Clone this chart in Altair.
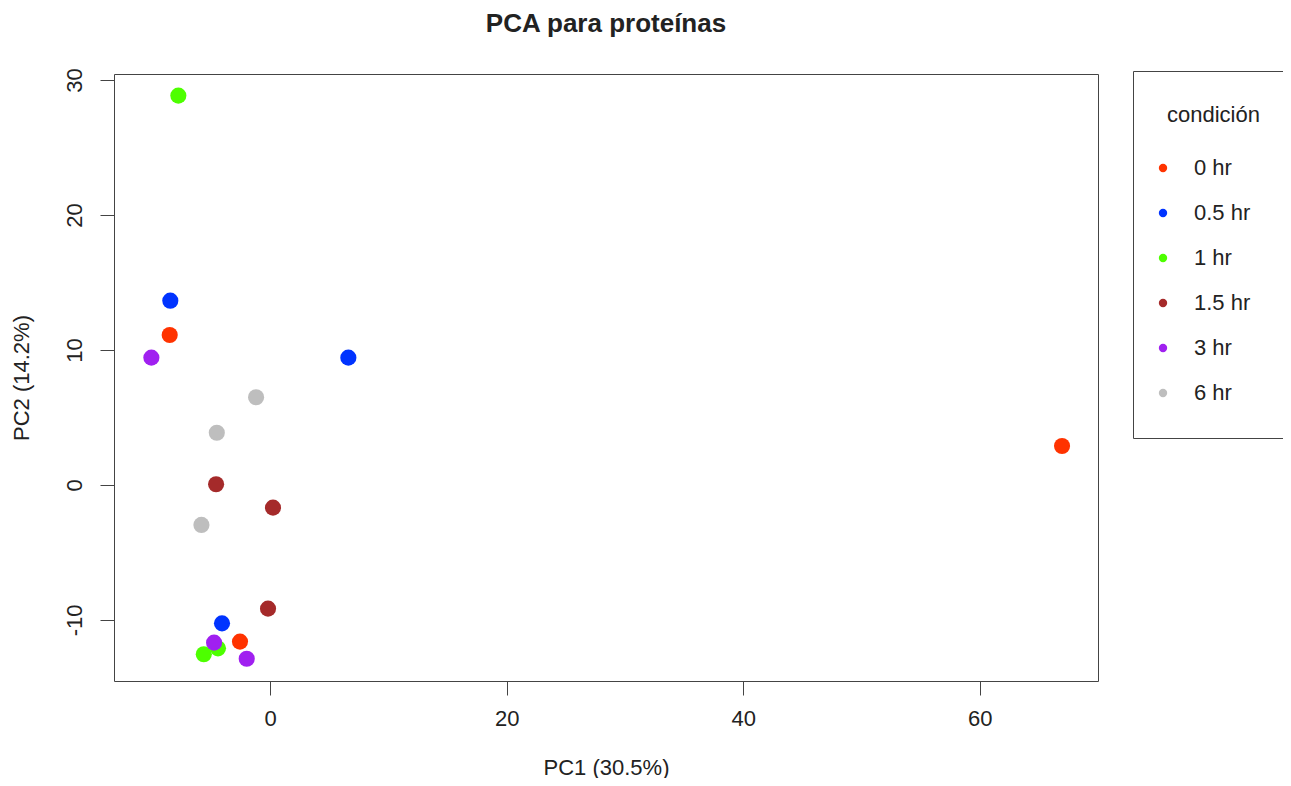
import altair as alt
import pandas as pd

conditions = ["0 hr", "0.5 hr", "1 hr", "1.5 hr", "3 hr", "6 hr"]
colors = ["#FF3300", "#0033FF", "#4DFF00", "#A52A2A", "#A020F0", "#BEBEBE"]

pc1 = [-8.48, -2.54, 66.95,
       -8.43, 6.62, -4.06,
       -7.75, -4.40, -5.60,
       -4.56, 0.25, -0.17,
       -10.03, -4.73, -1.97,
       -1.18, -4.50, -5.80]
pc2 = [11.11, -11.60, 2.89,
       13.65, 9.43, -10.25,
       28.84, -12.10, -12.54,
       0.05, -1.68, -9.16,
       9.43, -11.68, -12.87,
       6.50, 3.87, -2.96]
cond = ["0 hr"] * 3 + ["0.5 hr"] * 3 + ["1 hr"] * 3 + ["1.5 hr"] * 3 + ["3 hr"] * 3 + ["6 hr"] * 3

x_ticks = [0, 20, 40, 60]
y_ticks = [-10, 0, 10, 20, 30]

df = pd.DataFrame({"PC1": pc1, "PC2": pc2, "condición": cond})

FONT = "Liberation Sans"
TXT = "#222222"

chart = alt.Chart(df).mark_circle(size=260, opacity=1).encode(
    x=alt.X("PC1:Q",
            scale=alt.Scale(domain=[-13.19, 69.99], nice=False, zero=False),
            axis=alt.Axis(values=x_ticks, title="PC1 (30.5%)", grid=False, domain=False,
                          tickSize=14, tickColor="#444", labelPadding=13,
                          labelExpr="'' + datum.value",
                          titlePadding=28)),
    y=alt.Y("PC2:Q",
            scale=alt.Scale(domain=[-14.52, 30.44], nice=False, zero=False),
            axis=alt.Axis(values=y_ticks, title="PC2 (14.2%)", grid=False, domain=False,
                          tickSize=14, tickColor="#444", labelAngle=270,
                          labelAlign="center", labelBaseline="bottom",
                          labelExpr="'' + datum.value",
                          labelPadding=14, titlePadding=30)),
    color=alt.Color("condición:N",
                    scale=alt.Scale(domain=conditions, range=colors),
                    legend=alt.Legend(title="condición", orient="none",
                                      legendX=1019, legendY=-3,
                                      symbolType="circle", symbolSize=70,
                                      symbolStrokeWidth=0, symbolOpacity=1,
                                      symbolOffset=-15,
                                      labelOffset=20, rowPadding=23,
                                      titlePadding=30, titleAnchor="start",
                                      padding=34, strokeColor="#444")),
    order=alt.Order("idx:Q"),
).transform_window(
    idx="row_number()"
).properties(
    width=984,
    height=607,
    title=alt.TitleParams("PCA para proteínas", fontSize=26, fontWeight="bold",
                          font=FONT, color=TXT, anchor="middle", offset=31),
    padding={"left": 106, "top": 66, "right": 185, "bottom": 97},
    autosize=alt.AutoSizeParams(type="none"),
).configure_view(
    stroke="#444", strokeWidth=1
).configure_axis(
    labelFont=FONT, titleFont=FONT, labelFontSize=22, titleFontSize=22,
    titleFontWeight="normal", labelColor=TXT, titleColor=TXT
).configure_legend(
    labelFont=FONT, titleFont=FONT, labelFontSize=22, titleFontSize=22,
    titleFontWeight="normal", labelColor=TXT, titleColor=TXT
)

chart.save("out.html", embed_options={"renderer": "svg", "actions": False})
